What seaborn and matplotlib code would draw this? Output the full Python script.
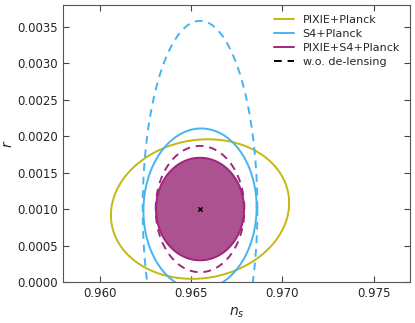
import numpy as np
import matplotlib
matplotlib.use("Agg")
import matplotlib.pyplot as plt
import seaborn as sns

# fiducial point
NS_FID = 0.9655
R_FID = 0.0010

# contour parameters: half-width in n_s, half-height in r, correlation
labels   = ["PIXIE+Planck", "S4+Planck", "PIXIE+S4+Planck"]
colors   = ["#c4b811", "#46b4f2", "#a3267d"]
sig_ns   = [0.00488, 0.00310, 0.00241]
sig_r    = [0.000957, 0.001105, 0.000703]
corr     = [0.088, 0.02, 0.0]

# without de-lensing (dashed), for S4+Planck and PIXIE+S4+Planck
nd_sig_ns = [0.00314, 0.00243]
nd_sig_r  = [0.00258, 0.000866]
nd_corr   = [0.0, 0.0]
nd_colors = ["#46b4f2", "#a3267d"]


def ellipse(sx, sy, rho, n=400):
    t = np.linspace(0, 2 * np.pi, n)
    x = NS_FID + sx * np.cos(t)
    y = R_FID + sy * (rho * np.cos(t) + np.sqrt(1 - rho ** 2) * np.sin(t))
    return x, y


sns.set_style("ticks")
plt.rcParams["font.family"] = ["DejaVu Sans"]
fig, ax = plt.subplots(figsize=(4.15, 3.23), dpi=100)

# filled combined contour
fx, fy = ellipse(sig_ns[2], sig_r[2], corr[2])
ax.fill(fx, fy, facecolor="#ad5290", edgecolor="#a3267d", lw=0.8, zorder=1)

for lab, c, sx, sy, rho in zip(labels, colors, sig_ns, sig_r, corr):
    x, y = ellipse(sx, sy, rho)
    sns.lineplot(x=x, y=y, sort=False, estimator=None, errorbar=None,
                 color=c, lw=1.4, ax=ax, label=lab, zorder=3)

for c, sx, sy, rho in zip(nd_colors, nd_sig_ns, nd_sig_r, nd_corr):
    x, y = ellipse(sx, sy, rho)
    sns.lineplot(x=x, y=y, sort=False, estimator=None, errorbar=None,
                 color=c, lw=1.4, ax=ax, dashes=False, linestyle=(0, (4, 3)), zorder=3)

ax.plot([], [], color="black", lw=1.4, linestyle=(0, (4, 3)), label="w.o. de-lensing")
ax.scatter([NS_FID], [R_FID], marker="x", s=10, color="black", lw=1.0, zorder=5)

ax.set_xlim(0.958, 0.977)
ax.set_ylim(0.0, 0.0038)
ax.set_xticks([0.960, 0.965, 0.970, 0.975])
ax.set_yticks(np.arange(0, 0.0036, 0.0005))
ax.set_xticklabels(["0.960", "0.965", "0.970", "0.975"])
ax.set_yticklabels([f"{v:.4f}" for v in np.arange(0, 0.0036, 0.0005)])
ax.tick_params(direction="in", top=True, right=True, labelsize=8.5, length=4, color="#444444")
for s in ax.spines.values():
    s.set_color("#555555")
ax.set_xlabel(r"$n_s$", fontsize=10)
ax.set_ylabel(r"$r$", fontsize=10)
ax.yaxis.set_label_coords(-0.14, 0.5)
ax.xaxis.set_label_coords(0.5, -0.085)

ax.legend(loc="upper right", frameon=False, fontsize=8, handlelength=1.8, labelspacing=0.35)

fig.subplots_adjust(left=0.152, right=0.988, top=0.985, bottom=0.127)
fig.savefig("out.png", dpi=100)
